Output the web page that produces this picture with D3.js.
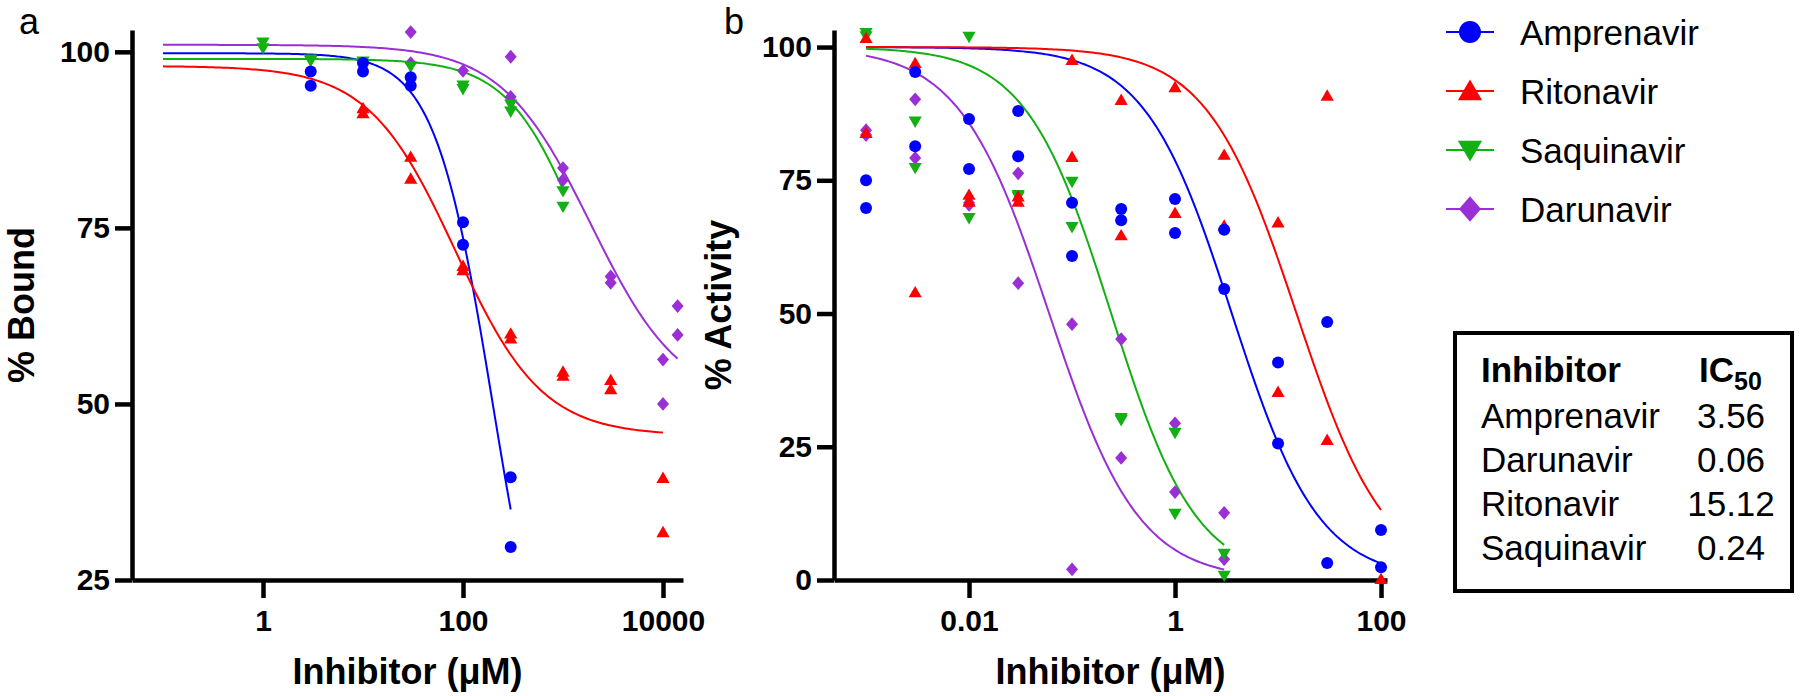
<!DOCTYPE html>
<html>
<head>
<meta charset="utf-8">
<script src="https://cdn.jsdelivr.net/npm/d3@7"></script>
<style>
body { margin: 0; background: #fff; }
text { font-family: "Liberation Sans", Arial, sans-serif; fill: #000; }
</style>
</head>
<body>
<script>
var w = 1800;
var h = 696;

// ---- panel a : % Bound ----
var ampA = [[3,97.2],[3,95.2],[10,98.4],[10,97.2],[30,96.4],[30,95.2],[100,75.8],[100,72.6],[300,39.6],[300,29.7]];
var ritA = [[10,92.0],[10,91.3],[30,85.1],[30,82.0],[100,69.6],[100,69.0],[300,60.0],[300,59.3],[1000,54.6],[1000,54.0],[3000,53.4],[3000,52.1],[10000,39.5],[10000,31.8]];
var saqA = [[1,101.3],[1,100.5],[3,98.9],[3,98.7],[10,98.6],[10,98.2],[30,97.9],[100,95.2],[100,94.7],[300,92.5],[300,91.5],[1000,80.2],[1000,78.0]];
var darA = [[30,102.8],[30,98.4],[100,97.3],[300,99.3],[300,93.6],[1000,83.5],[1000,81.8],[3000,68.1],[3000,67.2],[10000,56.3],[10000,50.0],[14000,63.9],[14000,59.8]];
// fitted curves: top, bottom, IC50, hill, x from, x to
var fitA = {
  amp: [99.8, 0, 199, 1.5, 0.1, 300],
  rit: [98, 45.5, 84, 1, 0.1, 10000],
  saq: [99, 50, 1515, 1.19, 0.1, 1000],
  dar: [101, 50, 1902, 0.97, 0.1, 14000]
};
var yTicksA = [25, 50, 75, 100];
var xTicksA = [1, 100, 10000];

// ---- panel b : % Activity ----
var ampB = [[0.001,75.0],[0.001,69.8],[0.003,95.3],[0.003,81.4],[0.01,86.5],[0.01,77.1],[0.03,88.0],[0.03,79.5],[0.1,70.8],[0.1,60.8],[0.3,69.6],[0.3,67.5],[1,71.5],[1,65.1],[3,65.7],[3,54.6],[10,40.8],[10,25.6],[30,48.4],[30,3.2],[100,9.4],[100,2.4]];
var ritB = [[0.001,101.7],[0.001,83.9],[0.003,97.0],[0.003,54.0],[0.01,72.3],[0.01,71.0],[0.03,72.0],[0.03,71.0],[0.1,97.6],[0.1,79.4],[0.3,90.1],[0.3,64.7],[1,92.5],[1,68.9],[3,79.8],[3,66.5],[10,67.1],[10,35.3],[30,90.9],[30,26.3],[100,0.2]];
var saqB = [[0.001,102.6],[0.001,102.0],[0.003,86.0],[0.003,77.3],[0.01,101.9],[0.01,67.9],[0.03,72.2],[0.03,71.9],[0.1,74.7],[0.1,66.2],[0.3,30.4],[0.3,30.0],[1,27.6],[1,12.4],[3,4.9],[3,0.8]];
var darB = [[0.001,84.4],[0.001,83.5],[0.003,90.2],[0.003,79.2],[0.01,70.4],[0.01,70.8],[0.03,76.3],[0.03,55.7],[0.1,48.0],[0.1,2.0],[0.3,45.2],[0.3,22.9],[1,29.4],[1,16.5],[3,12.6],[3,3.9]];
var fitB = {
  amp: [100, 0, 3.56, 1.03, 0.001, 100],
  rit: [100, 0, 15.12, 1, 0.001, 100],
  saq: [100, 0, 0.24, 1.05, 0.001, 3],
  dar: [100, 0, 0.06, 1, 0.001, 3]
};
var yTicksB = [0, 25, 50, 75, 100];
var xTicksB = [0.01, 1, 100];

var names = ["Amprenavir", "Ritonavir", "Saquinavir", "Darunavir"];
var keys = ["amp", "rit", "saq", "dar"];
var shapes = ["circle", "up", "down", "diamond"];
var colors = ["#0000ff", "#ff0000", "#12b012", "#9b2fd6"];

var tableRows = ["Amprenavir", "Darunavir", "Ritonavir", "Saquinavir"];
var tableIC50 = ["3.56", "0.06", "15.12", "0.24"];

var svg = d3.select("body").append("svg")
  .attr("width", w)
  .attr("height", h);

function markerPath(type, s) {
  if (type == "circle") return d3.symbol(d3.symbolCircle, Math.PI * s * s)();
  if (type == "up") return "M0," + (-s * 1.05) + "L" + (s * 1.1) + "," + (s * 0.85) + "L" + (-s * 1.1) + "," + (s * 0.85) + "Z";
  if (type == "down") return "M0," + (s * 1.05) + "L" + (s * 1.1) + "," + (-s * 0.85) + "L" + (-s * 1.1) + "," + (-s * 0.85) + "Z";
  return "M0," + (-s * 1.15) + "L" + s + ",0L0," + (s * 1.15) + "L" + (-s) + ",0Z";
}

function hill(p, x) {
  return p[1] + (p[0] - p[1]) / (1 + Math.pow(x / p[2], p[3]));
}

function drawPanel(opt) {
  var x = d3.scaleLog().domain(opt.xDomain).range(opt.xRange);
  var y = d3.scaleLinear().domain(opt.yDomain).range([580, 30]);
  var g = svg.append("g");

  var yAxis = d3.axisLeft(y).tickValues(opt.yTicks).tickSize(17).tickSizeOuter(0).tickPadding(5)
    .tickFormat(function(d) { return d; });
  var xAxis = d3.axisBottom(x).tickValues(opt.xTicks).tickSize(18).tickSizeOuter(0).tickPadding(12)
    .tickFormat(function(d) { return String(d); });

  var ya = g.append("g").attr("transform", "translate(" + opt.xRange[0] + ",0)").call(yAxis);
  var xa = g.append("g").attr("transform", "translate(0,580)").call(xAxis);
  [ya, xa].forEach(function(a) {
    a.select(".domain").attr("stroke", "#000").attr("stroke-width", 4.5);
    a.selectAll(".tick line").attr("stroke", "#000").attr("stroke-width", 4.5);
    a.selectAll("text").attr("font-size", 30).attr("font-weight", "bold")
      .attr("font-family", "'Liberation Sans', Arial, sans-serif").attr("fill", "#000");
  });

  // fitted curves
  var line = d3.line().x(function(d) { return x(d[0]); }).y(function(d) { return y(d[1]); });
  keys.forEach(function(k, i) {
    var p = opt.fit[k];
    var lo = Math.log10(p[4]), hi = Math.log10(p[5]);
    var pts = d3.range(0, 201).map(function(j) {
      var xv = Math.pow(10, lo + (hi - lo) * j / 200);
      return [xv, hill(p, xv)];
    });
    g.append("path").datum(pts).attr("d", line)
      .attr("fill", "none").attr("stroke", colors[i]).attr("stroke-width", 2);
  });

  // points: purple, green, red, blue on top
  [3, 2, 1, 0].forEach(function(i) {
    g.selectAll(null).data(opt.data[i]).enter().append("path")
      .attr("d", markerPath(shapes[i], 6))
      .attr("transform", function(d) { return "translate(" + x(d[0]) + "," + y(d[1]) + ")"; })
      .attr("fill", colors[i]);
  });

  var cx = (opt.xRange[0] + opt.xRange[1]) / 2;
  g.append("text").attr("x", cx).attr("y", 684).attr("text-anchor", "middle")
    .attr("font-size", 36).attr("font-weight", "bold").text("Inhibitor (μM)");
  g.append("text").attr("transform", "translate(" + opt.ylabX + ",305) rotate(-90)")
    .attr("text-anchor", "middle").attr("font-size", 36).attr("font-weight", "bold").text(opt.ylab);
  g.append("text").attr("x", opt.letterX).attr("y", 34).attr("font-size", 36).text(opt.letter);
}

drawPanel({
  xDomain: [Math.pow(10, -1.31), Math.pow(10, 4.2)], xRange: [132, 683],
  yDomain: [25, 103.1], yTicks: yTicksA, xTicks: xTicksA,
  fit: fitA, data: [ampA, ritA, saqA, darA],
  ylab: "% Bound", ylabX: 34, letter: "a", letterX: 19
});

drawPanel({
  xDomain: [Math.pow(10, -3.311), Math.pow(10, 2.058)], xRange: [834, 1387],
  yDomain: [0, 103.2], yTicks: yTicksB, xTicks: xTicksB,
  fit: fitB, data: [ampB, ritB, saqB, darB],
  ylab: "% Activity", ylabX: 731, letter: "b", letterX: 724
});

// legend
var legY = [32, 91, 150, 209];
var leg = svg.append("g");
names.forEach(function(n, i) {
  leg.append("line").attr("x1", 1446).attr("x2", 1494).attr("y1", legY[i]).attr("y2", legY[i])
    .attr("stroke", colors[i]).attr("stroke-width", 2);
  leg.append("path").attr("d", markerPath(shapes[i], 11))
    .attr("transform", "translate(1470," + legY[i] + ")").attr("fill", colors[i]);
  leg.append("text").attr("x", 1520).attr("y", legY[i]).attr("dy", "0.36em")
    .attr("font-size", 35).text(n);
});

// IC50 table
var tb = svg.append("g");
tb.append("rect").attr("x", 1455).attr("y", 333).attr("width", 337).attr("height", 258)
  .attr("fill", "none").attr("stroke", "#000").attr("stroke-width", 4);
tb.append("text").attr("x", 1481).attr("y", 382).attr("font-size", 35).attr("font-weight", "bold").text("Inhibitor");
var ic = tb.append("text").attr("x", 1699).attr("y", 382).attr("font-size", 35).attr("font-weight", "bold");
ic.append("tspan").text("IC");
ic.append("tspan").attr("font-size", 25).attr("dy", 8).text("50");
tableRows.forEach(function(r, i) {
  tb.append("text").attr("x", 1481).attr("y", 428 + i * 44).attr("font-size", 35).text(r);
  tb.append("text").attr("x", 1731).attr("y", 428 + i * 44).attr("text-anchor", "middle")
    .attr("font-size", 35).text(tableIC50[i]);
});
</script>
</body>
</html>
